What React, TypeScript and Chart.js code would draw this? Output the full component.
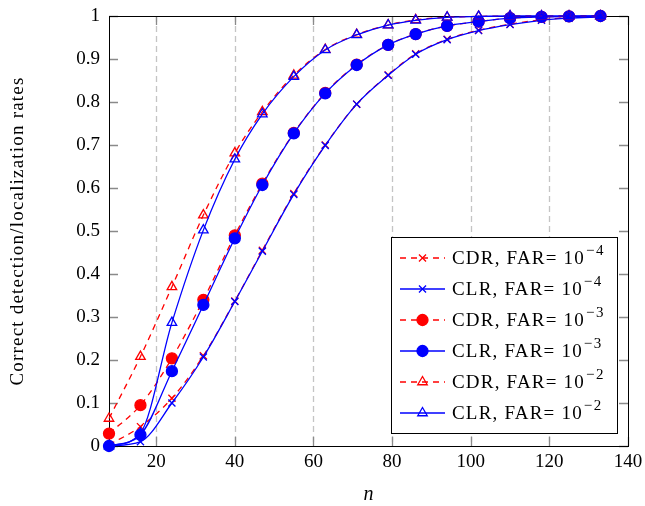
import React, { useEffect, useRef } from "react";
import { Chart, registerables } from "chart.js";
import { drawPoint } from "chart.js/helpers";

Chart.register(...registerables);

// ---------- data ----------
const nValues = [8, 16, 24, 32, 40, 47, 55, 63, 71, 79, 86, 94, 102, 110, 118, 125, 133];

const cdr4 = [0.003, 0.045, 0.111, 0.21, 0.337, 0.455, 0.587, 0.7, 0.795, 0.863, 0.912, 0.946, 0.967, 0.981, 0.991, 0.996, 0.998];
const clr4 = [0.0, 0.01, 0.1, 0.207, 0.336, 0.453, 0.585, 0.699, 0.795, 0.862, 0.911, 0.945, 0.966, 0.98, 0.99, 0.995, 0.998];
const cdr3 = [0.029, 0.095, 0.204, 0.34, 0.49, 0.61, 0.728, 0.821, 0.887, 0.933, 0.958, 0.977, 0.987, 0.995, 0.998, 0.999, 1.0];
const clr3 = [0.0, 0.026, 0.174, 0.328, 0.483, 0.607, 0.727, 0.82, 0.886, 0.933, 0.958, 0.977, 0.987, 0.995, 0.998, 0.999, 1.0];
const cdr2 = [0.064, 0.208, 0.37, 0.537, 0.681, 0.777, 0.862, 0.922, 0.957, 0.979, 0.991, 0.997, 0.999, 1.0, 1.0, 1.0, 1.0];
const clr2 = [0.0, 0.03, 0.287, 0.502, 0.667, 0.772, 0.859, 0.921, 0.956, 0.979, 0.99, 0.997, 0.999, 1.0, 1.0, 1.0, 1.0];

const seriesNames = ["CDR", "CLR", "CDR", "CLR", "CDR", "CLR"];
const farExponents = ["\u22124", "\u22124", "\u22123", "\u22123", "\u22122", "\u22122"];

const xTickValues = [20, 40, 60, 80, 100, 120, 140];
const yTickValues = [0, 0.1, 0.2, 0.3, 0.4, 0.5, 0.6, 0.7, 0.8, 0.9, 1];
const yTickLabels = ["0", "0.1", "0.2", "0.3", "0.4", "0.5", "0.6", "0.7", "0.8", "0.9", "1"];

const xTitle = "n";
const yTitle = "Correct detection/localization rates";

// ---------- styles ----------
const FONT = "'Liberation Serif', 'Times New Roman', serif";
const RED = "#ff0000";
const BLUE = "#0000ff";
const DASH = [6, 5];

type Style = {
  color: string;
  dashed: boolean;
  pointStyle: string;
  radius: number;
  fill: string;
};

const styles: Style[] = [
  { color: RED, dashed: true, pointStyle: "crossRot", radius: 5, fill: "rgba(0,0,0,0)" },
  { color: BLUE, dashed: false, pointStyle: "crossRot", radius: 5, fill: "rgba(0,0,0,0)" },
  { color: RED, dashed: true, pointStyle: "circle", radius: 5.5, fill: RED },
  { color: BLUE, dashed: false, pointStyle: "circle", radius: 5.5, fill: BLUE },
  { color: RED, dashed: true, pointStyle: "triangle", radius: 5.5, fill: "rgba(0,0,0,0)" },
  { color: BLUE, dashed: false, pointStyle: "triangle", radius: 5.5, fill: "rgba(0,0,0,0)" },
];

const seriesValues = [cdr4, clr4, cdr3, clr3, cdr2, clr2];

const decorPlugin = {
  id: "decor",
  beforeDatasetsDraw(chart: any) {
    const { ctx, chartArea: a, scales } = chart;
    const x = scales.x;
    const y = scales.y;
    ctx.save();
    // dashed vertical grid lines
    ctx.strokeStyle = "#c4c4c4";
    ctx.lineWidth = 1.3;
    ctx.setLineDash([6, 4]);
    xTickValues.forEach((v) => {
      if (v >= 140) return;
      const px = Math.round(x.getPixelForValue(v)) + 0.5;
      ctx.beginPath();
      ctx.moveTo(px, a.top);
      ctx.lineTo(px, a.bottom);
      ctx.stroke();
    });
    ctx.setLineDash([]);
    // inward tick marks
    ctx.strokeStyle = "#8a8a8a";
    ctx.lineWidth = 1.3;
    const tl = 9;
    xTickValues.forEach((v) => {
      const px = Math.round(x.getPixelForValue(v)) + 0.5;
      ctx.beginPath();
      ctx.moveTo(px, a.bottom);
      ctx.lineTo(px, a.bottom - tl);
      ctx.moveTo(px, a.top);
      ctx.lineTo(px, a.top + tl);
      ctx.stroke();
    });
    yTickValues.forEach((v) => {
      const py = Math.round(y.getPixelForValue(v)) + 0.5;
      ctx.beginPath();
      ctx.moveTo(a.left, py);
      ctx.lineTo(a.left + tl, py);
      ctx.moveTo(a.right, py);
      ctx.lineTo(a.right - tl, py);
      ctx.stroke();
    });
    // frame
    ctx.strokeStyle = "#000";
    ctx.lineWidth = 1;
    ctx.strokeRect(Math.round(a.left) + 0.5, Math.round(a.top) + 0.5, Math.round(a.right - a.left), Math.round(a.bottom - a.top));
    ctx.restore();
  },
  afterDraw(chart: any) {
    const { ctx, chartArea: a } = chart;
    ctx.save();
    // axis titles
    ctx.fillStyle = "#000";
    ctx.font = `19px ${FONT}`;
    ctx.textAlign = "center";
    ctx.textBaseline = "middle";
    ctx.save();
    (ctx as any).letterSpacing = "1.2px";
    ctx.translate(18, (a.top + a.bottom) / 2);
    ctx.rotate(-Math.PI / 2);
    ctx.fillText(yTitle, 0, 0);
    ctx.restore();
    ctx.font = `italic 20px ${FONT}`;
    ctx.textBaseline = "alphabetic";
    ctx.fillText(xTitle, (a.left + a.right) / 2, 500);

    // legend
    const bx = 391.5, by = 237.5, bw = 226, bh = 196;
    ctx.fillStyle = "#fff";
    ctx.fillRect(bx, by, bw, bh);
    ctx.strokeStyle = "#000";
    ctx.lineWidth = 1;
    ctx.strokeRect(bx, by, bw, bh);
    const rowY0 = 258;
    const rowStep = 31;
    styles.forEach((s, i) => {
      const ry = rowY0 + i * rowStep;
      const x0 = 400, x1 = 445, xm = 422.5;
      ctx.strokeStyle = s.color;
      ctx.lineWidth = 1.3;
      ctx.setLineDash(s.dashed ? DASH : []);
      ctx.beginPath();
      ctx.moveTo(x0, ry);
      ctx.lineTo(x1, ry);
      ctx.stroke();
      ctx.setLineDash([]);
      ctx.fillStyle = s.fill;
      ctx.strokeStyle = s.color;
      ctx.lineWidth = 1.3;
      drawPoint(ctx, { pointStyle: s.pointStyle as any, radius: s.radius, rotation: 0, borderWidth: 1.3 } as any, xm, ry);
      // label
      ctx.fillStyle = "#000";
      ctx.textAlign = "left";
      ctx.textBaseline = "middle";
      ctx.font = `19px ${FONT}`;
      (ctx as any).letterSpacing = "1.2px";
      const base = `${seriesNames[i]}, FAR= 10`;
      ctx.fillText(base, 452, ry + 1);
      const w = ctx.measureText(base).width;
      ctx.font = `15px ${FONT}`;
      (ctx as any).letterSpacing = "1.5px";
      ctx.fillText(farExponents[i], 452 + w + 1, ry - 7);
      (ctx as any).letterSpacing = "0px";
    });
    ctx.restore();
  },
};

export default function App() {
  const canvasRef = useRef<HTMLCanvasElement | null>(null);

  useEffect(() => {
    const canvas = canvasRef.current;
    if (!canvas) return;
    const datasets = styles.map((s, i) => ({
      label: `${seriesNames[i]}, FAR= 10^${farExponents[i]}`,
      data: nValues.map((n, k) => ({ x: n, y: seriesValues[i][k] })),
      borderColor: s.color,
      backgroundColor: s.fill,
      borderWidth: 1.3,
      borderDash: s.dashed ? DASH : [],
      pointStyle: s.pointStyle as any,
      pointRadius: s.radius,
      pointBorderWidth: 1.3,
      pointBorderColor: s.color,
      pointBackgroundColor: s.fill,
      cubicInterpolationMode: "monotone" as const,
      fill: false,
      clip: false as any,
      order: styles.length - 1 - i,
    }));

    const chart = new Chart(canvas, {
      type: "line",
      data: { datasets },
      options: {
        animation: false,
        responsive: false,
        devicePixelRatio: 1,
        layout: { padding: { top: 16, right: 17, left: 0, bottom: 0 } },
        plugins: { legend: { display: false }, tooltip: { enabled: false } },
        scales: {
          x: {
            type: "linear",
            min: 8,
            max: 140,
            grid: { display: false, drawTicks: false },
            border: { display: false },
            afterBuildTicks: (scale: any) => {
              scale.ticks = xTickValues.map((v) => ({ value: v }));
            },
            afterFit: (scale: any) => {
              scale.height = 60;
              scale.paddingLeft = 0;
              scale.paddingRight = 0;
            },
            ticks: {
              autoSkip: false,
              maxRotation: 0,
              padding: 5,
              color: "#000",
              font: { family: FONT, size: 19 },
              callback: (v: any) => String(v),
            },
          },
          y: {
            type: "linear",
            min: 0,
            max: 1,
            grid: { display: false, drawTicks: false },
            border: { display: false },
            afterBuildTicks: (scale: any) => {
              scale.ticks = yTickValues.map((v) => ({ value: v }));
            },
            afterFit: (scale: any) => {
              scale.width = 109;
              scale.paddingTop = 0;
              scale.paddingBottom = 0;
            },
            ticks: {
              autoSkip: false,
              padding: 9,
              color: "#000",
              font: { family: FONT, size: 19 },
              callback: (v: any) => {
                const idx = yTickValues.indexOf(v);
                return idx >= 0 ? yTickLabels[idx] : "";
              },
            },
          },
        },
      },
      plugins: [decorPlugin],
    });
    return () => chart.destroy();
  }, []);

  return (
    <div style={{ position: "fixed", left: 0, top: 0, width: 645, height: 506, background: "#fff" }}>
      <canvas ref={canvasRef} width={645} height={506} style={{ display: "block", width: 645, height: 506 }} />
    </div>
  );
}
